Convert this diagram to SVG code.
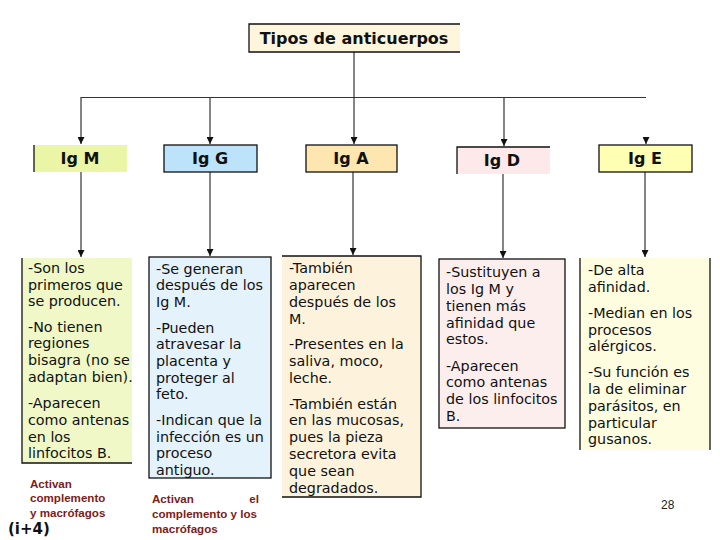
<svg xmlns="http://www.w3.org/2000/svg" width="720" height="540" viewBox="0 0 720 540">
<defs>
<marker id="ah" viewBox="0 0 8 8" refX="8" refY="4" markerWidth="7" markerHeight="7" markerUnits="userSpaceOnUse" orient="auto">
<path d="M0,0 L8,4 L0,8 Z" fill="#111"/>
</marker>
<style>
.hd{font-family:"DejaVu Sans",Verdana,sans-serif;font-weight:bold;font-size:16px;fill:#111;text-anchor:middle}
.tx{font-family:"DejaVu Sans",Verdana,sans-serif;font-size:14.3px;fill:#111}
.red{font-family:"Liberation Sans",Arial,sans-serif;font-weight:bold;font-size:11.6px;fill:#7b1c1c}
.ln{stroke:#333;stroke-width:1.2;fill:none}
.bd{stroke:#111;stroke-width:1.3;fill:none}
</style>
</defs>
<rect width="720" height="540" fill="#fff"/>

<g id="connectors">
<line class="ln" x1="354" y1="52" x2="354" y2="97" stroke="#999"/>
<line class="ln" x1="81" y1="97.5" x2="646" y2="97.5" stroke-width="1.5"/>
<line class="ln" x1="81" y1="97" x2="81" y2="144" marker-end="url(#ah)"/>
<line class="ln" x1="210" y1="97" x2="210" y2="144" marker-end="url(#ah)"/>
<line class="ln" x1="354" y1="97" x2="354" y2="144" marker-end="url(#ah)"/>
<line class="ln" x1="504" y1="97" x2="504" y2="146" marker-end="url(#ah)"/>
<line class="ln" x1="646" y1="138" x2="646" y2="144" stroke-width="0.1" marker-end="url(#ah)"/>
<line class="ln" x1="81" y1="172" x2="81" y2="257" marker-end="url(#ah)"/>
<line class="ln" x1="210" y1="172" x2="210" y2="256" marker-end="url(#ah)"/>
<line class="ln" x1="353" y1="172" x2="353" y2="255" stroke="#777" marker-end="url(#ah)"/>
<line class="ln" x1="503" y1="174" x2="503" y2="258" marker-end="url(#ah)"/>
<line class="ln" x1="645" y1="172" x2="645" y2="257" marker-end="url(#ah)"/>
</g>

<g id="title">
<rect x="249" y="24" width="211" height="28" fill="#fdf5dc"/>
<path class="bd" d="M460,24 H249 V52 H460"/>
<text class="hd" x="354" y="44" font-size="16">Tipos de anticuerpos</text>
</g>

<g id="igm">
<rect x="34" y="145" width="93" height="27" fill="#eaf6a6"/>
<line class="bd" x1="34" y1="145" x2="34" y2="172"/>
<text class="hd" x="80" y="164">Ig M</text>
</g>
<g id="igg">
<rect x="164" y="145" width="93" height="27" fill="#bde3fb" stroke="#111" stroke-width="1.3"/>
<text class="hd" x="210" y="164">Ig G</text>
</g>
<g id="iga">
<rect x="306" y="145" width="91" height="27" fill="#fde6b0" stroke="#111" stroke-width="1.3"/>
<text class="hd" x="351" y="164">Ig A</text>
</g>
<g id="igd">
<rect x="457" y="147" width="93" height="27" fill="#fde9e9"/>
<path class="bd" d="M457,174 V147 H550"/>
<text class="hd" x="502" y="166">Ig D</text>
</g>
<g id="ige">
<rect x="599" y="145" width="93" height="27" fill="#ffffb3" stroke="#111" stroke-width="1.3"/>
<text class="hd" x="645" y="164">Ig E</text>
</g>

<g id="igm-desc">
<rect x="22" y="258" width="110" height="205" fill="#eff8c6"/>
<path class="bd" d="M22,258 V463 H132" stroke="#444"/>
<text class="tx"><tspan x="28" y="273">-Son los</tspan><tspan x="28" y="290">primeros que</tspan><tspan x="28" y="306">se producen.</tspan><tspan x="28" y="332">-No tienen</tspan><tspan x="28" y="348">regiones</tspan><tspan x="28" y="365">bisagra (no se</tspan><tspan x="28" y="382">adaptan bien).</tspan><tspan x="28" y="408">-Aparecen</tspan><tspan x="28" y="425">como antenas</tspan><tspan x="28" y="442">en los</tspan><tspan x="28" y="458">linfocitos B.</tspan></text>
</g>

<g id="igg-desc">
<rect x="149" y="257" width="122" height="221" fill="#e4f2fc" stroke="#111" stroke-width="1.3"/>
<text class="tx"><tspan x="156" y="274">-Se generan</tspan><tspan x="156" y="290">después de los</tspan><tspan x="156" y="307">Ig M.</tspan><tspan x="156" y="333">-Pueden</tspan><tspan x="156" y="349">atravesar la</tspan><tspan x="156" y="366">placenta y</tspan><tspan x="156" y="383">proteger al</tspan><tspan x="156" y="399">feto.</tspan><tspan x="156" y="425">-Indican que la</tspan><tspan x="156" y="442">infección es un</tspan><tspan x="156" y="458">proceso</tspan><tspan x="156" y="475">antiguo.</tspan></text>
</g>

<g id="iga-desc">
<rect x="282" y="256" width="139" height="241" fill="#fdf3dc"/>
<path class="bd" d="M282,256 H421 V497 H282"/>
<text class="tx"><tspan x="289" y="273">-También</tspan><tspan x="289" y="290">aparecen</tspan><tspan x="289" y="307">después de los</tspan><tspan x="289" y="324">M.</tspan><tspan x="289" y="349">-Presentes en la</tspan><tspan x="289" y="366">saliva, moco,</tspan><tspan x="289" y="383">leche.</tspan><tspan x="289" y="409">-También están</tspan><tspan x="289" y="425">en las mucosas,</tspan><tspan x="289" y="442">pues la pieza</tspan><tspan x="289" y="459">secretora evita</tspan><tspan x="289" y="476">que sean</tspan><tspan x="289" y="493">degradados.</tspan></text>
</g>

<g id="igd-desc">
<rect x="439" y="259" width="126" height="169" fill="#fdeeee" stroke="#111" stroke-width="1.3"/>
<text class="tx"><tspan x="446" y="277">-Sustituyen a</tspan><tspan x="446" y="294">los Ig M y</tspan><tspan x="446" y="311">tienen más</tspan><tspan x="446" y="328">afinidad que</tspan><tspan x="446" y="344">estos.</tspan><tspan x="446" y="371">-Aparecen</tspan><tspan x="446" y="387">como antenas</tspan><tspan x="446" y="404">de los linfocitos</tspan><tspan x="446" y="421">B.</tspan></text>
</g>

<g id="ige-desc">
<rect x="580" y="258" width="130" height="192" fill="#fefde0"/>
<line class="bd" x1="580" y1="258" x2="580" y2="450"/>
<line class="bd" x1="710" y1="258" x2="710" y2="450"/>
<text class="tx"><tspan x="588" y="275">-De alta</tspan><tspan x="588" y="292">afinidad.</tspan><tspan x="588" y="318">-Median en los</tspan><tspan x="588" y="335">procesos</tspan><tspan x="588" y="351">alérgicos.</tspan><tspan x="588" y="377">-Su función es</tspan><tspan x="588" y="394">la de eliminar</tspan><tspan x="588" y="411">parásitos, en</tspan><tspan x="588" y="428">particular</tspan><tspan x="588" y="444">gusanos.</tspan></text>
</g>

<g id="notes">
<text class="red"><tspan x="30" y="488">Activan</tspan><tspan x="30" y="502">complemento</tspan><tspan x="30" y="517">y macrófagos</tspan></text>
<text x="8" y="534" font-family="'DejaVu Sans',Verdana,sans-serif" font-weight="bold" font-size="15" fill="#111">(i+4)</text>
<text class="red" x="152" y="503">Activan</text>
<text class="red" x="259" y="503" text-anchor="end">el</text>
<text class="red"><tspan x="152" y="518">complemento y los</tspan><tspan x="152" y="533">macrófagos</tspan></text>
<text x="661" y="509" font-family="'Liberation Sans',Arial,sans-serif" font-size="12" fill="#222">28</text>
</g>
</svg>
